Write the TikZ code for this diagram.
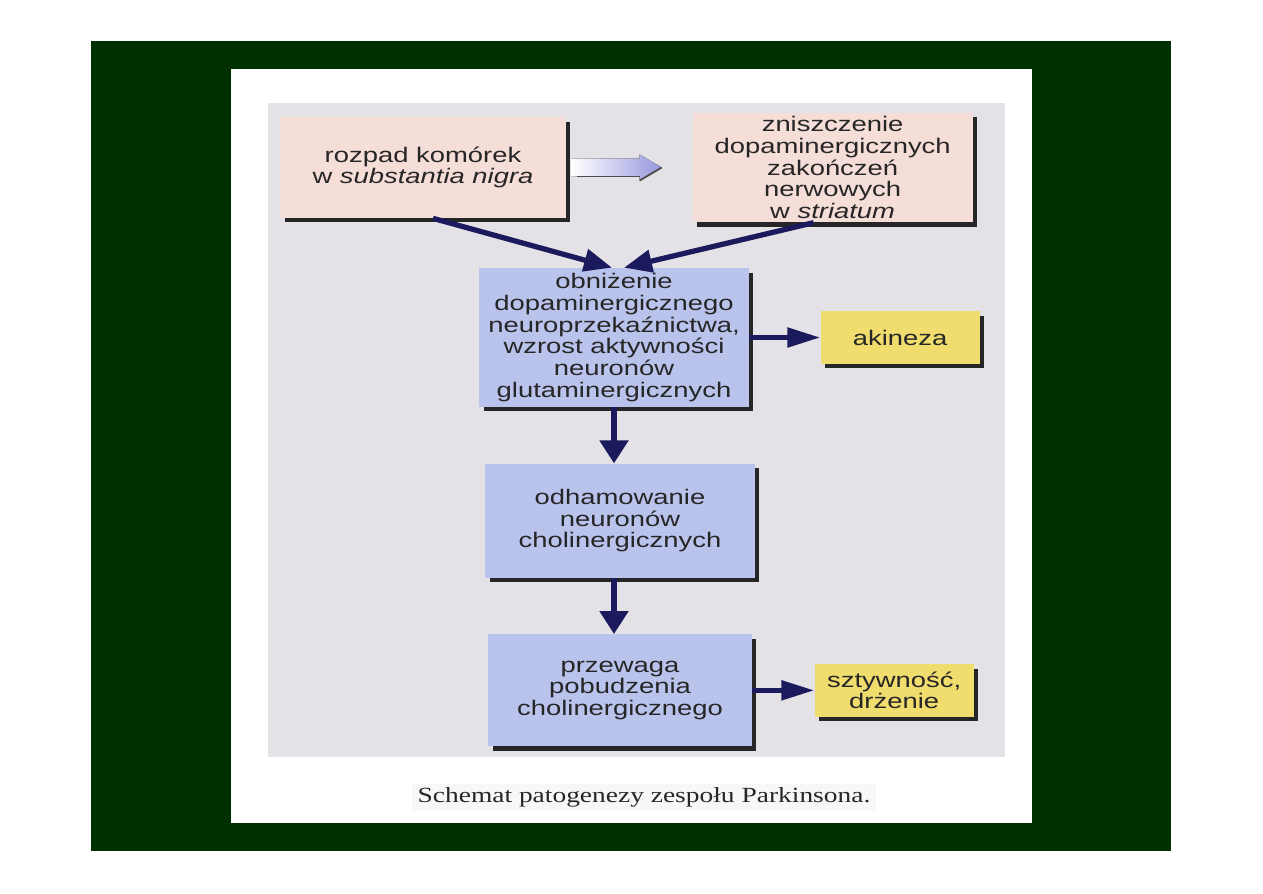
\documentclass[tikz,border=0pt]{standalone}
\usepackage{fontspec}
\newfontfamily\boxfont[FakeStretch=1.3]{Liberation Sans}
\newfontfamily\capfont[FakeStretch=1.27]{Liberation Serif}
\usetikzlibrary{arrows.meta, positioning, shadows, calc}
\definecolor{slidegreen}{RGB}{0, 48, 0}
\definecolor{scangray}{RGB}{228, 226, 230}
\definecolor{boxpink}{RGB}{245, 221, 216}
\definecolor{boxblue}{RGB}{185, 195, 236}
\definecolor{boxyellow}{RGB}{240, 221, 110}
\definecolor{arrnavy}{RGB}{27, 26, 92}
\definecolor{gradblue}{RGB}{150, 150, 222}

\begin{document}
\begin{tikzpicture}[
    x=0.02cm, y=-0.02cm,
    box/.style={align=center, inner sep=2pt, text=black!85,
                font=\boxfont\fontsize{12}{12.4}\selectfont,
                drop shadow={shadow xshift=0.09cm, shadow yshift=-0.09cm,
                             fill=black!85, opacity=1}},
    pinkbox/.style={box, fill=boxpink},
    bluebox/.style={box, fill=boxblue, minimum width=5.4cm},
    yellowbox/.style={box, fill=boxyellow, minimum width=3.18cm, minimum height=1.05cm},
    arr/.style={line width=3pt, arrnavy},
    arrh/.style={arr, -{Triangle[length=0.66cm, width=0.38cm]}},
    arrv/.style={arr, -{Triangle[length=0.46cm, width=0.56cm]}},
    arrd/.style={arr, -{Triangle[length=0.56cm, width=0.44cm]}}
]
    % page and slide frame
    \useasboundingbox[fill=white] (0,0) rectangle (1263,893);
    \fill[slidegreen] (91,41) rectangle (1171,851);
    \fill[white] (231,69) rectangle (1032,823);
    \fill[scangray] (268,103) rectangle (1005,757);

    % top row
    \node[pinkbox, minimum width=5.72cm, minimum height=2.02cm] (rozpad) at (423,167.5)
        {rozpad komórek\\w \textit{substantia nigra}};
    \node[pinkbox, minimum width=5.6cm, minimum height=2.06cm, right=2.52cm of rozpad] (zniszcz)
        {zniszczenie\\dopaminergicznych\\zakończeń\\nerwowych\\w \textit{striatum}};

    % middle column
    \node[bluebox, minimum height=2.78cm] (obniz) at (614,337.5)
        {obniżenie\\dopaminergicznego\\neuroprzekaźnictwa,\\wzrost aktywności\\neuronów\\glutaminergicznych};
    \node[bluebox, minimum height=2.28cm, below=1.12cm of obniz, xshift=0.12cm] (odham)
        {odhamowanie\\neuronów\\cholinergicznych};
    \node[bluebox, minimum width=5.28cm, minimum height=2.24cm, below=1.12cm of odham] (przew)
        {przewaga\\pobudzenia\\cholinergicznego};

    % outcomes
    \node[yellowbox, right=1.42cm of obniz] (akin) {akineza};
    \node[yellowbox, right=1.24cm of przew] (sztyw) {sztywność,\\drżenie};

    % shaded arrow between the top boxes
    \coordinate (ga) at ($(rozpad.east)!0.4!(zniszcz.west)$);
    \fill[left color=white, right color=gradblue]
        ($(ga)+(-45,-9)$) -- ++(68,0) -- ++(0,-4) -- ++(22,13)
        -- ++(-22,13) -- ++(0,-4) -- ++(-68,0) -- cycle;
    \draw[black!70, line width=1pt] ($(ga)+(-40,9)$) -- ++(63,0);
    \draw[black!70, line width=1pt] ($(ga)+(23,13)$) -- ++(22,-13);

    % connectors
    \draw[arrd] ([xshift=0.2cm]rozpad.south) -- ([xshift=-0.04cm]obniz.north);
    \draw[arrd] ([xshift=-0.38cm]zniszcz.south) -- ([xshift=0.2cm]obniz.north);
    \draw[arrh] (obniz.east) -- (akin.west);
    \draw[arrv] (obniz.south) -- (obniz.south |- odham.north);
    \draw[arrv] (obniz.south |- odham.south) -- (obniz.south |- przew.north);
    \draw[arrh] (przew.east) -- (sztyw.west);

    % caption
    \node[fill=black!3, inner xsep=3pt, inner ysep=2pt,
          font=\capfont\fontsize{12.3}{14}\selectfont, text=black!85] (caption) at (644,797)
        {Schemat patogenezy zespołu Parkinsona.};
\end{tikzpicture}
\end{document}
